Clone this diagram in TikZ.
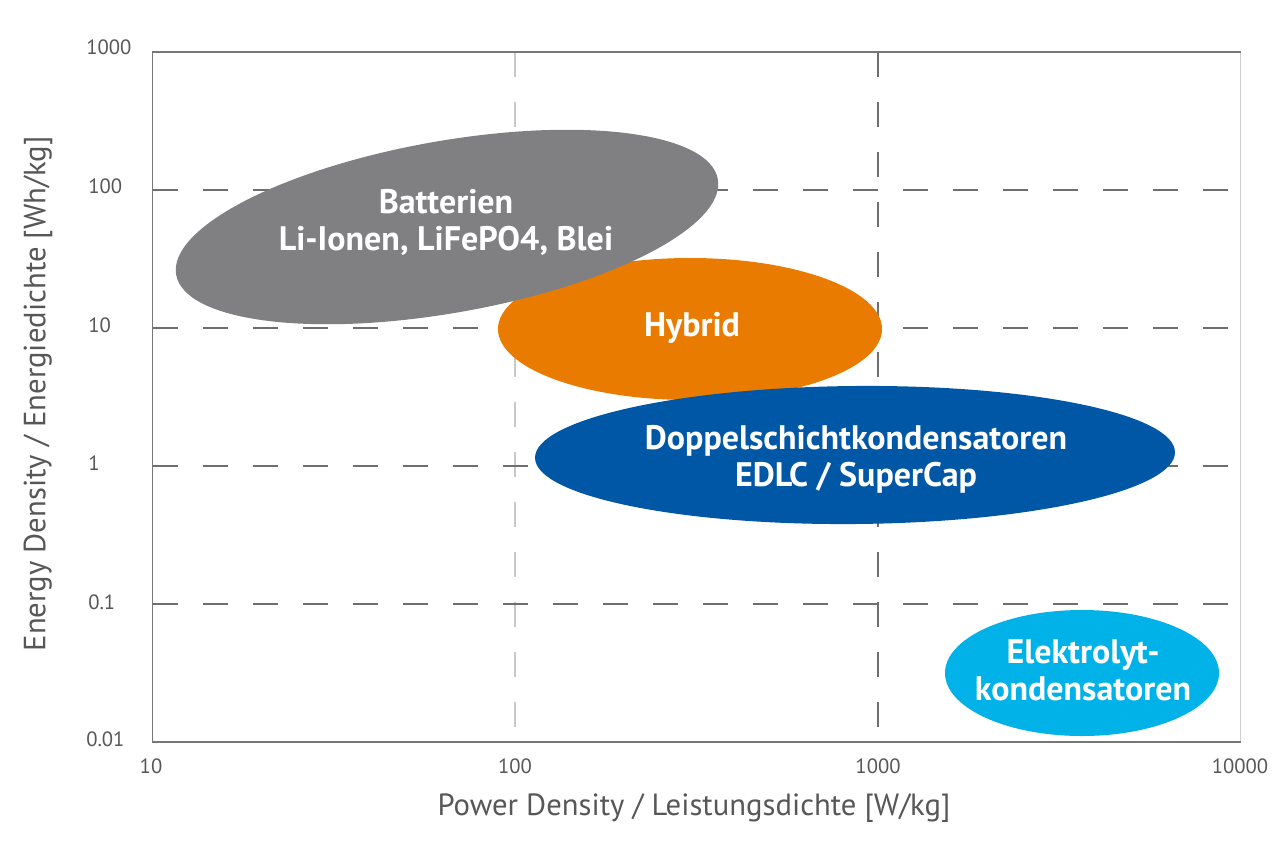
\documentclass[tikz,border=0pt]{standalone}
\usepackage{fontspec}
\setmainfont{PT Sans}
\definecolor{txtgray}{HTML}{575757}
\definecolor{axgray}{HTML}{777777}
\definecolor{lightax}{HTML}{CFCFCF}
\definecolor{gridlight}{HTML}{C8C8C8}
\definecolor{griddark}{HTML}{6E6E6E}
\definecolor{batgray}{HTML}{808082}
\definecolor{hyborange}{HTML}{E97C00}
\definecolor{edlcblue}{HTML}{0057A6}
\definecolor{elcyan}{HTML}{00B2E8}
\begin{document}
\begin{tikzpicture}[x=0.75pt,y=-0.75pt,
  axisline/.style={line width=1.1pt},
  gridline/.style={line width=1.1pt, dash pattern=on 18.75pt off 18.75pt},
  ticklab/.style={text=txtgray, inner sep=0pt, font=\fontsize{15.5}{18}\selectfont},
  axlab/.style={text=txtgray, inner sep=0pt, font=\fontsize{23}{27}\selectfont},
  blobtext/.style={text=white, inner sep=0pt, align=center, font=\bfseries\fontsize{25.5}{27.75}\selectfont}]
\useasboundingbox[fill=white] (0,0) rectangle (1280,842);
% grid
\coordinate (L1) at (152.7,190); \coordinate (R1) at (1240.7,190);
\coordinate (L2) at (152.7,328); \coordinate (R2) at (1240.7,328);
\coordinate (L3) at (152.7,466); \coordinate (R3) at (1240.7,466);
\coordinate (L4) at (152.7,604); \coordinate (R4) at (1240.7,604);
\coordinate (T1) at (515,52); \coordinate (B1) at (515,742);
\coordinate (T2) at (878,52); \coordinate (B2) at (878,742);
\draw[gridline, gridlight] (T1) -- (B1);
\draw[gridline, griddark] (T2) -- (B2);
\foreach \i in {1,2,3,4} \draw[gridline, griddark] (L\i) -- (R\i);
% frame
\coordinate (TL) at (152.7,52); \coordinate (TR) at (1240.7,52);
\coordinate (BL) at (152.7,742); \coordinate (BR) at (1240.7,742);
\draw[axisline, lightax] (TR) -- (BR);
\draw[axisline, axgray] (TR) -- (TL) -- (BL) -- (BR);
% regions
\fill[hyborange] (690,329) ellipse [x radius=192, y radius=71];
\fill[batgray, rotate around={10:(447,227)}] (447,227) ellipse [x radius=275, y radius=86];
\fill[edlcblue, rotate around={0.5:(855,455)}] (855,455) ellipse [x radius=320, y radius=69];
\fill[elcyan] (1082,673) ellipse [x radius=137, y radius=63];
% region labels
\node[blobtext] (bat) at (446,222) {Batterien\\Li-Ionen, LiFePO4, Blei};
\node[blobtext] (hyb) at (692,328) {Hybrid};
\node[blobtext] (edlc) at (856,459) {Doppelschichtkondensatoren\\EDLC / SuperCap};
\node[blobtext] (elko) at (1083,670) {Elektrolyt-\\kondensatoren};
% y tick labels
\node[ticklab, anchor=west] (y1000) at (86,47) {1000};
\node[ticklab, anchor=west] (y100) at (88,186) {100};
\node[ticklab, anchor=west] (y10) at (88,325) {10};
\node[ticklab, anchor=west] (y1) at (88,463) {1};
\node[ticklab, anchor=west] (y01) at (88,602) {0.1};
\node[ticklab, anchor=west] (y001) at (86,739) {0.01};
% x tick labels
\node[ticklab] (x10) at (151,766) {10};
\node[ticklab] (x100) at (515,766) {100};
\node[ticklab] (x1000) at (878,766) {1000};
\node[ticklab] (x10000) at (1240,766) {10000};
% axis labels
\node[axlab] (xlab) at (694,808) {Power Density / Leistungsdichte [W/kg]};
\node[axlab, rotate=90] (ylab) at (38,394) {Energy Density / Energiedichte [Wh/kg]};
\end{tikzpicture}
\end{document}
